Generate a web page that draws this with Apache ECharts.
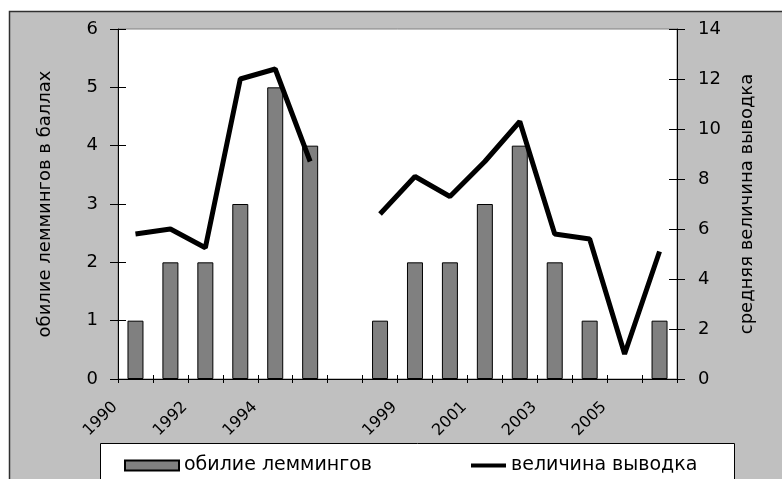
<!DOCTYPE html>
<html>
<head>
<meta charset="utf-8">
<script src="https://cdn.jsdelivr.net/npm/echarts@6/dist/echarts.min.js"></script>
<style>
  html, body { margin: 0; padding: 0; background: #ffffff; }
  #chart { width: 782px; height: 479px; }
</style>
</head>
<body>
<div id="chart"></div>
<script>
// Years on the category axis (blank slot separates the two survey periods)
const years = ['1990', '1991', '1992', '1993', '1994', '1995', '', '1998', '1999', '2000', '2001', '2002', '2003', '2004', '2005', '2006'];
// Lemming abundance, points (left axis)
const lemmingAbundance = [1, 2, 2, 3, 5, 4, null, 1, 2, 2, 3, 4, 2, 1, null, 1];
// Mean brood size (right axis)
const broodSize = [5.8, 6.0, 5.25, 12.0, 12.4, 8.7, null, 6.6, 8.1, 7.3, 8.7, 10.3, 5.8, 5.6, 1.0, 5.1];
// Axis ranges
const leftAxisRange = { min: 0, max: 6, interval: 1 };
const rightAxisRange = { min: 0, max: 14, interval: 2 };

const FONT = '"DejaVu Sans", "Liberation Sans", Arial, sans-serif';
const chart = echarts.init(document.getElementById('chart'), null, { renderer: 'canvas' });

// Inner half of the cross-style ticks
const tickOnly = (position, range, length) => ({
  type: 'value', position: position,
  min: range.min, max: range.max, interval: range.interval,
  axisLine: { show: false },
  axisTick: { show: true, inside: true, length: length, lineStyle: { color: '#000', width: 1 } },
  axisLabel: { show: false },
  splitLine: { show: false }
});

chart.setOption({
  backgroundColor: '#ffffff',
  animation: false,
  graphic: [
    {
      type: 'rect', z: -100,
      shape: { x: 9.5, y: 11.5, width: 800, height: 500 },
      style: { fill: '#c0c0c0', stroke: '#303030', lineWidth: 1.5 }
    },
    {
      type: 'rect', z: 1,
      shape: { x: 100.5, y: 443.5, width: 634, height: 60 },
      style: { fill: '#ffffff', stroke: '#000000', lineWidth: 1 }
    }
  ],
  grid: {
    left: 118, right: 105, top: 29, bottom: 100,
    show: true, backgroundColor: '#ffffff', borderColor: '#808080', borderWidth: 1
  },
  legend: [
    {
      data: ['обилие леммингов'],
      left: 119, top: 451,
      itemWidth: 54, itemHeight: 10, itemGap: 0,
      icon: 'rect',
      textStyle: { fontFamily: FONT, fontSize: 19, color: '#000' }
    },
    {
      data: ['величина выводка'],
      left: 466, top: 451,
      itemWidth: 35, itemHeight: 4, itemGap: 0,
      icon: 'rect',
      textStyle: { fontFamily: FONT, fontSize: 19, color: '#000' }
    }
  ],
  xAxis: [
    {
      type: 'category', data: years, position: 'bottom',
      boundaryGap: true,
      axisLine: { show: true, lineStyle: { color: '#000', width: 1 } },
      axisTick: { show: true, inside: false, length: 4, interval: 0, lineStyle: { color: '#000' } },
      axisLabel: {
        interval: 1, rotate: 45, margin: 5,
        padding: [0, 29, 0, 0],
        fontFamily: FONT, fontSize: 16, color: '#000'
      },
      splitLine: { show: false }
    },
    {
      type: 'category', data: years, position: 'bottom',
      boundaryGap: true,
      axisLine: { show: false },
      axisTick: { show: true, inside: true, length: 4, interval: 0, lineStyle: { color: '#000' } },
      axisLabel: { show: false },
      splitLine: { show: false }
    }
  ],
  yAxis: [
    {
      type: 'value', position: 'left',
      min: leftAxisRange.min, max: leftAxisRange.max, interval: leftAxisRange.interval,
      name: 'обилие леммингов в баллах',
      nameLocation: 'middle', nameGap: 64,
      nameTextStyle: { fontFamily: FONT, fontSize: 18, color: '#000' },
      axisLine: { show: true, lineStyle: { color: '#000', width: 1 } },
      axisTick: { show: true, inside: false, length: 8, lineStyle: { color: '#000' } },
      axisLabel: { margin: 20, fontFamily: FONT, fontSize: 18, color: '#000' },
      splitLine: { show: false }
    },
    {
      type: 'value', position: 'right',
      min: rightAxisRange.min, max: rightAxisRange.max, interval: rightAxisRange.interval,
      name: 'средняя величина выводка',
      nameLocation: 'middle', nameGap: 61,
      nameTextStyle: { fontFamily: FONT, fontSize: 18, color: '#000' },
      axisLine: { show: true, lineStyle: { color: '#000', width: 1 } },
      axisTick: { show: true, inside: false, length: 8, lineStyle: { color: '#000' } },
      axisLabel: { margin: 21, fontFamily: FONT, fontSize: 18, color: '#000' },
      splitLine: { show: false }
    },
    tickOnly('left', leftAxisRange, 8),
    tickOnly('right', rightAxisRange, 8)
  ],
  series: [
    {
      name: 'обилие леммингов',
      type: 'bar',
      xAxisIndex: 0, yAxisIndex: 0,
      data: lemmingAbundance,
      barWidth: 16,
      itemStyle: { color: '#808080', borderColor: '#000', borderWidth: 1 },
      z: 2
    },
    {
      name: 'величина выводка',
      type: 'line',
      xAxisIndex: 0, yAxisIndex: 1,
      data: broodSize,
      connectNulls: false,
      symbol: 'none',
      lineStyle: { color: '#000', width: 5 },
      itemStyle: { color: '#000' },
      z: 3
    }
  ]
});
</script>
</body>
</html>
